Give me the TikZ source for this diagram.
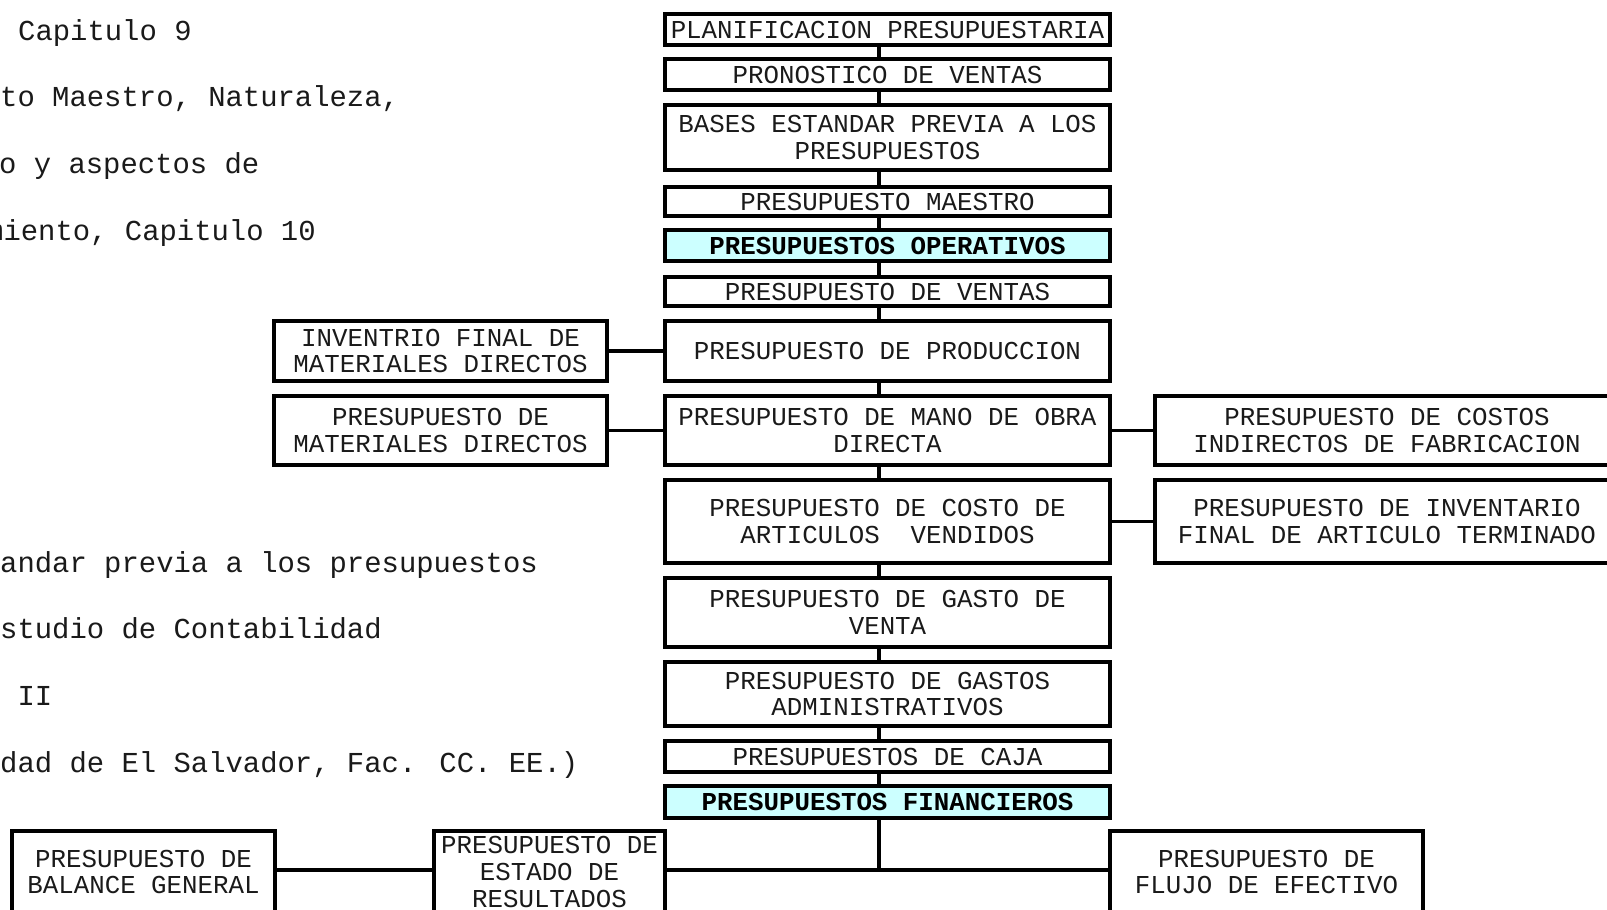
\documentclass[tikz,border=0pt]{standalone}
\usepackage{fontspec}
\newfontfamily\cour{Liberation Mono}
\definecolor{cyanlight}{HTML}{CCFFFF}
\definecolor{txtgray}{HTML}{1A1A1A}
\begin{document}
\begin{tikzpicture}[x=1pt,y=-1pt,
  box/.style={draw=black, line width=3.4pt, fill=white, inner sep=0pt, align=center,
    text=txtgray, font=\cour\fontsize{25.8}{26.6}\selectfont},
  hibox/.style={box, fill=cyanlight, text=black, font=\cour\bfseries\fontsize{25.8}{26.6}\selectfont},
  conn/.style={line width=3.4pt},
  side/.style={anchor=base west, inner sep=0pt, text=txtgray, font=\cour\fontsize{28.9}{30}\selectfont}]
\fill[white] (0,0) rectangle (1607,910);
\useasboundingbox (0,0) rectangle (1607,910);

% side text
\node[side] (t1) at (18,40) {Capitulo 9};
\node[side] (t2) at (0,106.7) {to Maestro, Naturaleza,};
\node[side] (t3) at (-1,173.3) {o y aspectos de};
\node[side] (t4) at (-14,240) {miento, Capitulo 10};
\node[side] (t5) at (0,572) {andar previa a los presupuestos};
\node[side] (t6) at (0,638.7) {studio de Contabilidad};
\node[side] (t7) at (17.35,705.3) {II};
\node[side] (t8) at (0,772) {dad de El Salvador, Fac. CC. EE.)};

\coordinate (sp) at (879,0);
\coordinate (bj) at (879,870);

% central column
\node[box, minimum width=445pt, minimum height=31pt] (n1) at (887.5,29.5) {PLANIFICACION PRESUPUESTARIA};
\node[box, minimum width=445pt, minimum height=31pt] (n2) at (887.5,74.5) {PRONOSTICO DE VENTAS};
\node[box, minimum width=445pt, minimum height=65pt] (n3) at (887.5,137.5) {BASES ESTANDAR PREVIA A LOS\\PRESUPUESTOS};
\node[box, minimum width=445pt, minimum height=29pt] (n4) at (887.5,201.5) {PRESUPUESTO MAESTRO};
\node[hibox, minimum width=445pt, minimum height=31pt] (n5) at (887.5,245.5) {PRESUPUESTOS OPERATIVOS};
\node[box, minimum width=445pt, minimum height=29pt] (n6) at (887.5,291.5) {PRESUPUESTO DE VENTAS};
\node[box, minimum width=445pt, minimum height=60pt] (n7) at (887.5,351) {PRESUPUESTO DE PRODUCCION};
\node[box, minimum width=445pt, minimum height=69pt] (n8) at (887.5,430.5) {PRESUPUESTO DE MANO DE OBRA\\DIRECTA};
\node[box, minimum width=445pt, minimum height=83pt] (n9) at (887.5,521.5) {PRESUPUESTO DE COSTO DE\\ARTICULOS\ \ VENDIDOS};
\node[box, minimum width=445pt, minimum height=69pt] (n10) at (887.5,612.5) {PRESUPUESTO DE GASTO DE\\VENTA};
\node[box, minimum width=445pt, minimum height=64pt] (n11) at (887.5,694) {PRESUPUESTO DE GASTOS\\ADMINISTRATIVOS};
\node[box, minimum width=445pt, minimum height=31pt] (n12) at (887.5,756.5) {PRESUPUESTOS DE CAJA};
\node[hibox, minimum width=445pt, minimum height=32pt] (n13) at (887.5,802) {PRESUPUESTOS FINANCIEROS};

% left boxes
\node[box, minimum width=333pt, minimum height=60pt] (inv) at (440.5,351) {INVENTRIO FINAL DE\\MATERIALES DIRECTOS};
\node[box, minimum width=333pt, minimum height=69pt] (mat) at (440.5,430.5) {PRESUPUESTO DE\\MATERIALES DIRECTOS};

% right boxes
\node[box, minimum width=464pt, minimum height=69pt] (cif) at (1387,430.5) {PRESUPUESTO DE COSTOS\\INDIRECTOS DE FABRICACION};
\node[box, minimum width=464pt, minimum height=83pt] (invf) at (1387,521.5) {PRESUPUESTO DE INVENTARIO\\FINAL DE ARTICULO TERMINADO};

% bottom boxes
\node[box, minimum width=263pt, minimum height=82pt] (bal) at (143.5,872) {PRESUPUESTO DE\\BALANCE GENERAL};
\node[box, minimum width=231pt, minimum height=82pt] (est) at (549.5,872) {PRESUPUESTO DE\\ESTADO DE\\RESULTADOS};
\node[box, minimum width=313pt, minimum height=82pt] (flu) at (1266.5,872) {PRESUPUESTO DE\\FLUJO DE EFECTIVO};

% vertical spine connectors
\foreach \a/\b in {n1/n2,n2/n3,n3/n4,n4/n5,n5/n6,n6/n7,n7/n8,n8/n9,n9/n10,n10/n11,n11/n12,n12/n13}
  \draw[conn] (\a.south -| sp) -- (\b.north -| sp);

% side connectors
\draw[conn] (inv.east) -- (n7.west);
\draw[conn] (mat.east) -- (n8.west);
\draw[conn] (n8.east) -- (cif.west);
\draw[conn] (n9.east) -- (invf.west);

% bottom connectors
\draw[conn] (n13.south -| sp) -- (bj);
\draw[conn] (est.east |- bj) -- (flu.west |- bj);
\draw[conn] (bal.east |- bj) -- (est.west |- bj);
\end{tikzpicture}
\end{document}
